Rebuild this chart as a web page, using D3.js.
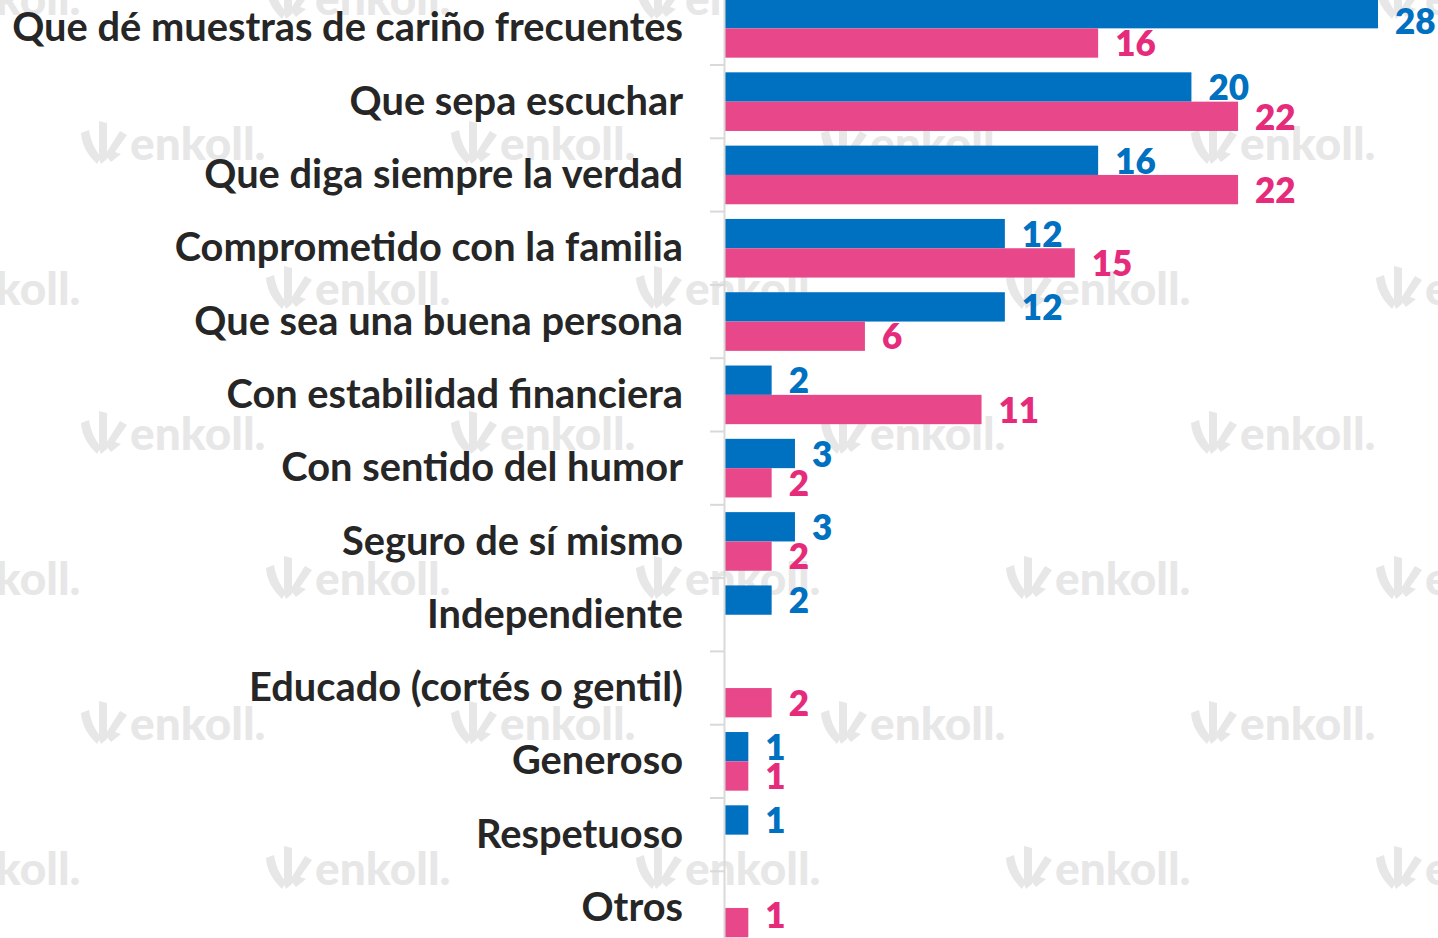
<!DOCTYPE html>
<html><head><meta charset="utf-8">
<script src="https://cdn.jsdelivr.net/npm/d3@7"></script>
<style>html,body{margin:0;padding:0;background:#fff;overflow:hidden}</style>
</head><body>
<svg id="c" width="1438" height="938"></svg>
<script>
const categories = ["Que dé muestras de cariño frecuentes","Que sepa escuchar","Que diga siempre la verdad","Comprometido con la familia","Que sea una buena persona","Con estabilidad financiera","Con sentido del humor","Seguro de sí mismo","Independiente","Educado (cortés o gentil)","Generoso","Respetuoso","Otros"];
const blueValues = [28,20,16,12,12,2,3,3,2,null,1,1,null];
const pinkValues = [16,22,22,15,6,11,2,2,null,2,1,null,1];
const seriesKeys = ["blue","pink"];

const svg = d3.select("#c");
const barColor = {blue:"#0070C0", pink:"#E8488A"};
const labelColor = {blue:"#0070C0", pink:"#E62B7B"};

// watermark
const wm = svg.append("g").attr("fill","#e7e7e7");
const logoParts = [
  "M1,12 L9,9 C11,21 15,29 21,36 L17,43 C8,34 2,25 1,12 Z",
  "M19,0 L27,2 L27,38 L21,43 L19,38 Z",
  "M25,34 L40,10 L47,14 L35,31 L41,33 L31,41 Z"
];
for (let r = 0; r < 7; r++) {
  const yy = r*145 + 3;
  const off = (r%2===0) ? -105 : 80;
  for (let k = -1; k < 5; k++) {
    const xx = off + k*370;
    const g = wm.append("g").attr("transform",`translate(${xx},${yy-27})`);
    logoParts.forEach(p=>g.append("path").attr("d", p));
    g.append("text").attr("x",50).attr("y",39).attr("font-family","Lato, 'Open Sans', sans-serif")
      .attr("font-weight","900").attr("font-size",46).text("enkoll.");
  }
}

const y = d3.scaleBand().domain(categories).range([-8.3, 944.6]).padding(0);
const y1 = d3.scaleBand().domain(seriesKeys).range([0, y.bandwidth()]).paddingInner(0).paddingOuter(0.25);
const x = d3.scaleLinear().domain([0,28]).range([725, 1378]);

const rows = categories.map((c,i)=>({cat:c, blue:blueValues[i], pink:pinkValues[i]}));

// bars
const gb = svg.append("g");
rows.forEach(r=>{
  seriesKeys.forEach(k=>{
    if (r[k]==null) return;
    gb.append("rect").attr("x", x(0)).attr("y", y(r.cat)+y1(k))
      .attr("width", x(r[k])-x(0)).attr("height", y1.bandwidth())
      .attr("fill", barColor[k]);
  });
});

// axis
const axisG = svg.append("g").attr("transform",`translate(${x(0)-1},0)`);
axisG.call(d3.axisLeft(y).tickSize(0).tickFormat(""));
axisG.select(".domain").attr("stroke","#d9d9d9").attr("stroke-width",2);
const bounds = categories.map(c=>y(c)).concat([y(categories[categories.length-1])+y.step()]);
axisG.selectAll("line.bnd").data(bounds).enter().append("line").attr("class","bnd")
  .attr("x1",-14).attr("x2",0).attr("y1",d=>d).attr("y2",d=>d)
  .attr("stroke","#d9d9d9").attr("stroke-width",2);

// category labels
const font = "Lato, 'Open Sans', sans-serif";
const tmp = svg.append("text").attr("font-family",font).attr("font-weight",700).attr("font-size",100).text(categories[0]);
const w100 = tmp.node().getComputedTextLength(); tmp.remove();
const fs = 100*671/w100;
svg.append("g").selectAll("text").data(categories).enter().append("text")
  .attr("x",683).attr("y",d=>y(d)+y.bandwidth()/2 + fs*0.33)
  .attr("text-anchor","end").attr("font-family",font).attr("font-weight",700)
  .attr("font-size",fs).attr("fill","#262626").text(d=>d);

// value labels (kept inside the visible plot area)
const vfs = 35;
const gl = svg.append("g");
rows.forEach(r=>{
  seriesKeys.forEach(k=>{
    if (r[k]==null) return;
    const cy = Math.min(Math.max(y(r.cat)+y1(k)+y1.bandwidth()/2+1, 22), 916);
    gl.append("text").attr("x", x(r[k])+17).attr("y", cy + vfs*0.35)
      .attr("font-family",font).attr("font-weight",800).attr("font-size",vfs)
      .attr("fill",labelColor[k]).text(r[k]);
  });
});
</script>
</body></html>
